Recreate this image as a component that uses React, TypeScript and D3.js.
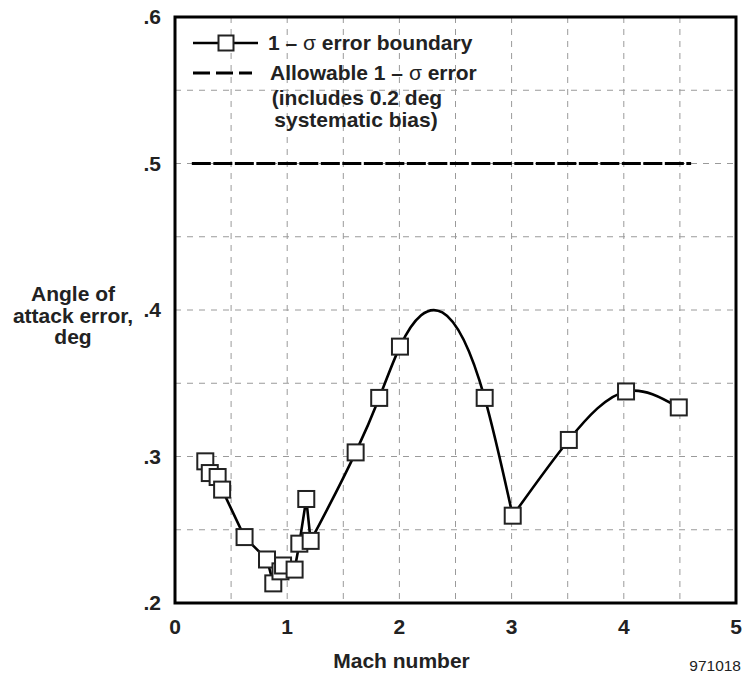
import React from "react";
import * as d3 from "d3";

// ---- data ----
const machNumbers = [0.27, 0.31, 0.38, 0.42, 0.62, 0.82, 0.876, 0.94, 0.963, 1.066, 1.108, 1.17, 1.209, 1.61, 1.82, 2.005, 2.76, 3.01, 3.51, 4.02, 4.49];
const aoaErrors = [0.2967, 0.2887, 0.286, 0.2774, 0.245, 0.2297, 0.2134, 0.2216, 0.2256, 0.2228, 0.2405, 0.271, 0.2424, 0.3028, 0.34, 0.375, 0.34, 0.2596, 0.3113, 0.3444, 0.3335];
// indices where the smooth (spline) pieces of the boundary curve start/end
const smoothPieces = [[12, 17], [17, 20]];
const allowableError = 0.5;
const allowableRange = [0.15, 4.6];
const xTicks = [0, 1, 2, 3, 4, 5];
const yTicks = [0.2, 0.3, 0.4, 0.5, 0.6];
const xGrid = [0.5, 1, 1.5, 2, 2.5, 3, 3.5, 4, 4.5];
const yGrid = [0.25, 0.3, 0.35, 0.4, 0.45, 0.5, 0.55];
const legendLabels = ["1 – ", "σ", " error boundary"];
const legendLabels2 = ["Allowable 1 – ", "σ", " error"];
const legendNote = ["(includes 0.2 deg", "systematic bias)"];
const yLabel = ["Angle of", "attack error,", "deg"];
const xLabel = "Mach number";
const figId = "971018";

const W = 742, H = 681;
const left = 175, right = 736, top = 17, bottom = 603;
const FONT = "'Liberation Sans', Arial, Helvetica, sans-serif";

// natural cubic spline in x; returns slopes (left,right) for each segment
function naturalSegments(xs: number[], ys: number[]) {
  const n = xs.length;
  const h: number[] = [], d: number[] = [];
  for (let i = 0; i < n - 1; i++) { h.push(xs[i + 1] - xs[i]); d.push((ys[i + 1] - ys[i]) / h[i]); }
  const M = new Array(n).fill(0);
  const m = n - 2;
  if (m > 0) {
    const a: number[] = [], b: number[] = [], c: number[] = [], r: number[] = [];
    for (let i = 1; i <= m; i++) {
      a.push(h[i - 1]); b.push(2 * (h[i - 1] + h[i])); c.push(h[i]); r.push(6 * (d[i] - d[i - 1]));
    }
    for (let i = 1; i < m; i++) {
      const w = a[i] / b[i - 1];
      b[i] -= w * c[i - 1];
      r[i] -= w * r[i - 1];
    }
    const sol = new Array(m).fill(0);
    sol[m - 1] = r[m - 1] / b[m - 1];
    for (let i = m - 2; i >= 0; i--) sol[i] = (r[i] - c[i] * sol[i + 1]) / b[i];
    for (let i = 0; i < m; i++) M[i + 1] = sol[i];
  }
  const segs = [];
  for (let i = 0; i < n - 1; i++) {
    const mL = d[i] - h[i] * (2 * M[i] + M[i + 1]) / 6;
    const mR = d[i] + h[i] * (M[i] + 2 * M[i + 1]) / 6;
    segs.push({ x0: xs[i], y0: ys[i], x1: xs[i + 1], y1: ys[i + 1], mL, mR, h: h[i] });
  }
  return segs;
}

export default function App() {
  const x = d3.scaleLinear().domain([0, 5]).range([left, right]);
  const y = d3.scaleLinear().domain([0.2, 0.6]).range([bottom, top]);

  // build boundary path
  const p = d3.path();
  const startSmooth = smoothPieces[0][0];
  p.moveTo(x(machNumbers[0]), y(aoaErrors[0]));
  for (let i = 1; i <= startSmooth; i++) p.lineTo(x(machNumbers[i]), y(aoaErrors[i]));
  for (const [s, e] of smoothPieces) {
    const segs = naturalSegments(machNumbers.slice(s, e + 1), aoaErrors.slice(s, e + 1));
    for (const g of segs) {
      p.bezierCurveTo(
        x(g.x0 + g.h / 3), y(g.y0 + g.mL * g.h / 3),
        x(g.x1 - g.h / 3), y(g.y1 - g.mR * g.h / 3),
        x(g.x1), y(g.y1)
      );
    }
  }

  const sq = 16;
  const fmt = (v: number) => d3.format(".1f")(v).replace(/^0/, "");
  const fs = 21;

  return (
    <svg width={W} height={H} style={{ position: "absolute", left: 0, top: 0, background: "#fff" }} fontFamily={FONT}>
      <rect x={0} y={0} width={W} height={H} fill="#fff" />
      {/* grid */}
      <g stroke="#9a9a9a" strokeWidth={1} strokeDasharray="6,6">
        {xGrid.map((v) => <line key={"gx" + v} x1={x(v)} x2={x(v)} y1={top} y2={bottom} />)}
        {yGrid.map((v) => <line key={"gy" + v} x1={left} x2={right} y1={y(v)} y2={y(v)} />)}
      </g>
      {/* allowable error line */}
      <line x1={x(allowableRange[0])} x2={x(allowableRange[1])} y1={y(allowableError)} y2={y(allowableError)}
        stroke="#000" strokeWidth={3} strokeDasharray="19,2.5" />
      {/* boundary curve */}
      <path d={p.toString()} fill="none" stroke="#000" strokeWidth={2.6} strokeLinejoin="round" />
      {machNumbers.map((m, i) => (
        <rect key={"s" + i} x={x(m) - sq / 2} y={y(aoaErrors[i]) - sq / 2} width={sq} height={sq}
          fill="#fff" stroke="#222" strokeWidth={2} />
      ))}
      {/* frame */}
      <rect x={left} y={top} width={right - left} height={bottom - top} fill="none" stroke="#000" strokeWidth={3} />
      {/* ticks */}
      {xTicks.map((v) => (
        <text key={"xt" + v} x={x(v)} y={634} textAnchor="middle" fontSize={fs} fontWeight="bold" fill="#222">{v}</text>
      ))}
      {yTicks.map((v) => (
        <text key={"yt" + v} x={161} y={y(v) + 7} textAnchor="end" fontSize={fs} fontWeight="bold" fill="#222">{fmt(v)}</text>
      ))}
      {/* axis labels */}
      <text x={(x(0) + x(5)) / 2 - 54} y={668} textAnchor="middle" fontSize={fs} fontWeight="bold" fill="#222">{xLabel}</text>
      {yLabel.map((t, i) => (
        <text key={"yl" + i} x={73} y={301 + i * 21.5} textAnchor="middle" fontSize={fs} fontWeight="bold" fill="#222">{t}</text>
      ))}
      <text x={741} y={671} textAnchor="end" fontSize={15.5} fill="#222">{figId}</text>
      {/* legend */}
      <line x1={193} x2={258} y1={43} y2={43} stroke="#000" strokeWidth={2.6} />
      <rect x={226 - 7.5} y={43 - 7.5} width={15} height={15} fill="#fff" stroke="#222" strokeWidth={2} />
      <text x={268} y={50} fontSize={fs} fontWeight="bold" fill="#222">
        {legendLabels[0]}<tspan fontWeight="normal">{legendLabels[1]}</tspan>{legendLabels[2]}
      </text>
      <line x1={193} x2={252} y1={73} y2={73} stroke="#000" strokeWidth={3} strokeDasharray="17,6" />
      <text x={270} y={80} fontSize={fs} fontWeight="bold" fill="#222">
        {legendLabels2[0]}<tspan fontWeight="normal">{legendLabels2[1]}</tspan>{legendLabels2[2]}
      </text>
      <text x={357} y={105} textAnchor="middle" fontSize={fs} fontWeight="bold" fill="#222">{legendNote[0]}</text>
      <text x={356} y={127} textAnchor="middle" fontSize={fs} fontWeight="bold" fill="#222">{legendNote[1]}</text>
    </svg>
  );
}
